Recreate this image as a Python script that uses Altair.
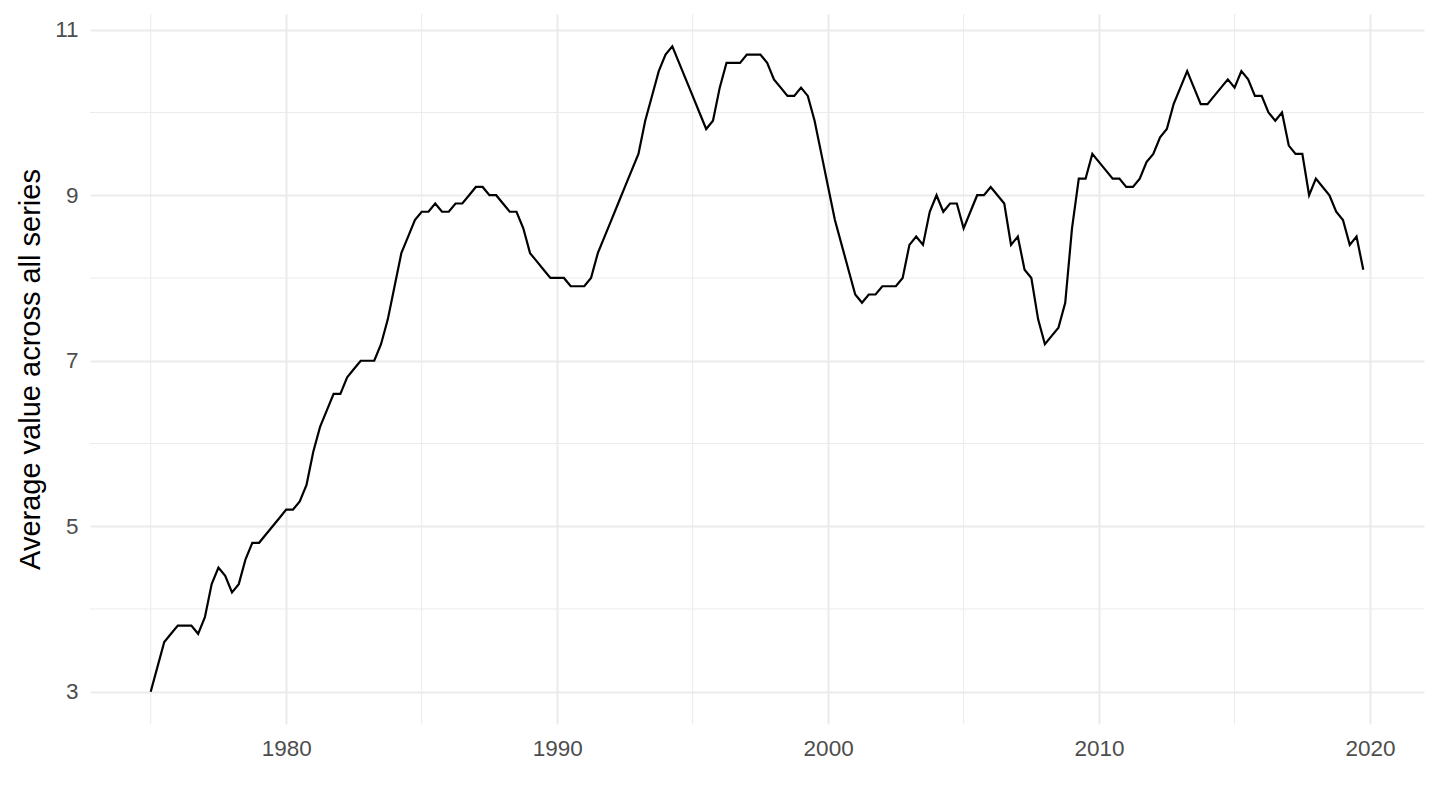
import altair as alt
import pandas as pd

# Quarterly averages, 1975 Q1 .. 2019 Q4
values = [
    3.0, 3.3, 3.6, 3.7, 3.8, 3.8, 3.8, 3.7, 3.9, 4.3,
    4.5, 4.4, 4.2, 4.3, 4.6, 4.8, 4.8, 4.9, 5.0, 5.1,
    5.2, 5.2, 5.3, 5.5, 5.9, 6.2, 6.4, 6.6, 6.6, 6.8,
    6.9, 7.0, 7.0, 7.0, 7.2, 7.5, 7.9, 8.3, 8.5, 8.7,
    8.8, 8.8, 8.9, 8.8, 8.8, 8.9, 8.9, 9.0, 9.1, 9.1,
    9.0, 9.0, 8.9, 8.8, 8.8, 8.6, 8.3, 8.2, 8.1, 8.0,
    8.0, 8.0, 7.9, 7.9, 7.9, 8.0, 8.3, 8.5, 8.7, 8.9,
    9.1, 9.3, 9.5, 9.9, 10.2, 10.5, 10.7, 10.8, 10.6, 10.4,
    10.2, 10.0, 9.8, 9.9, 10.3, 10.6, 10.6, 10.6, 10.7, 10.7,
    10.7, 10.6, 10.4, 10.3, 10.2, 10.2, 10.3, 10.2, 9.9, 9.5,
    9.1, 8.7, 8.4, 8.1, 7.8, 7.7, 7.8, 7.8, 7.9, 7.9,
    7.9, 8.0, 8.4, 8.5, 8.4, 8.8, 9.0, 8.8, 8.9, 8.9,
    8.6, 8.8, 9.0, 9.0, 9.1, 9.0, 8.9, 8.4, 8.5, 8.1,
    8.0, 7.5, 7.2, 7.3, 7.4, 7.7, 8.6, 9.2, 9.2, 9.5,
    9.4, 9.3, 9.2, 9.2, 9.1, 9.1, 9.2, 9.4, 9.5, 9.7,
    9.8, 10.1, 10.3, 10.5, 10.3, 10.1, 10.1, 10.2, 10.3, 10.4,
    10.3, 10.5, 10.4, 10.2, 10.2, 10.0, 9.9, 10.0, 9.6, 9.5,
    9.5, 9.0, 9.2, 9.1, 9.0, 8.8, 8.7, 8.4, 8.5, 8.1,
]
start_year = 1975
years = [start_year + i / 4 for i in range(len(values))]

x_major = [1980, 1990, 2000, 2010, 2020]
x_minor = [1975, 1985, 1995, 2005, 2015]
y_major = [3, 5, 7, 9, 11]
y_minor = [4, 6, 8, 10]

df = pd.DataFrame({"year": years, "value": values})
xscale = alt.Scale(domain=[1972.76, 2021.99], nice=False, zero=False)
yscale = alt.Scale(domain=[2.61, 11.19], nice=False, zero=False)

grid_col = "#EBEBEB"

x_axis = alt.Axis(values=x_major, format="d", title=None, labelPadding=13)
y_axis = alt.Axis(
    values=y_major,
    title="Average value across all series",
    labelPadding=12,
    titleX=-60,
    titleY=355,
    titleBaseline="middle",
    titleAlign="center",
)

minor_x = alt.Chart(pd.DataFrame({"year": x_minor})).mark_rule(
    color=grid_col, strokeWidth=1
).encode(x=alt.X("year:Q", scale=xscale, axis=x_axis))

minor_y = alt.Chart(pd.DataFrame({"value": y_minor})).mark_rule(
    color=grid_col, strokeWidth=1
).encode(y=alt.Y("value:Q", scale=yscale, axis=y_axis))

line = alt.Chart(df).mark_line(color="black", strokeWidth=2.2).encode(
    x=alt.X("year:Q", scale=xscale, axis=x_axis),
    y=alt.Y("value:Q", scale=yscale, axis=y_axis),
)

chart = (
    alt.layer(minor_x, minor_y, line)
    .properties(
        width=1334,
        height=710,
        autosize=alt.AutoSizeParams(type="none"),
        padding={"left": 82, "top": 6, "right": 8, "bottom": 70},
    )
    .configure_view(stroke=None)
    .configure_axis(
        domain=False,
        ticks=False,
        grid=True,
        gridColor=grid_col,
        gridWidth=2,
        labelFont="Liberation Sans",
        labelFontSize=22.5,
        labelColor="#4D4D4D",
        titleFont="Liberation Sans",
        titleFontSize=29,
        titleFontWeight="normal",
        titleColor="black",
    )
)

chart.save("out.html", embed_options={"renderer": "svg", "actions": False})
